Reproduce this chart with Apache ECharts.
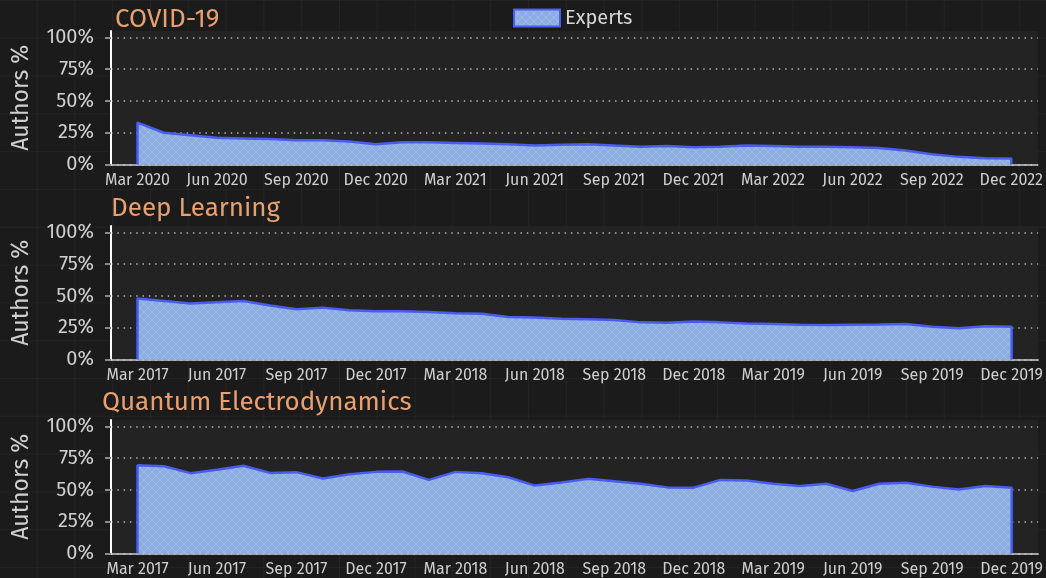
<!DOCTYPE html>
<html>
<head>
<meta charset="utf-8">
<script src="https://cdn.jsdelivr.net/npm/echarts@6/dist/echarts.min.js"></script>
<style>
html,body{margin:0;padding:0;width:1046px;height:578px;overflow:hidden;}
body{
  background-color:#1b1b1b;
  background-image:
    linear-gradient(to right, rgba(255,255,255,0.035) 1px, transparent 1px),
    linear-gradient(to bottom, rgba(255,255,255,0.035) 1px, transparent 1px);
  background-size:37.8px 37.8px;
  background-position:36.6px 0px;
}
#c{width:1046px;height:578px;}
</style>
</head>
<body>
<div id="c"></div>
<script>
// ---------- data ----------
const titles = ['COVID-19', 'Deep Learning', 'Quantum Electrodynamics'];
const seriesName = 'Experts';
// month index 0 = first labelled month (Mar), one value per month
const covidLabels = ['Mar 2020','Jun 2020','Sep 2020','Dec 2020','Mar 2021','Jun 2021','Sep 2021','Dec 2021','Mar 2022','Jun 2022','Sep 2022','Dec 2022'];
const dlLabels = ['Mar 2017','Jun 2017','Sep 2017','Dec 2017','Mar 2018','Jun 2018','Sep 2018','Dec 2018','Mar 2019','Jun 2019','Sep 2019','Dec 2019'];
const qedLabels = ['Mar 2017','Jun 2017','Sep 2017','Dec 2017','Mar 2018','Jun 2018','Sep 2018','Dec 2018','Mar 2019','Jun 2019','Sep 2019','Dec 2019'];
const covidValues = [33,25,23,21,20.5,20,19,19,18,16,17.5,17.5,17,16.5,16,15,15.5,16,15,14,14.5,13.5,14,15,14.5,14,14,13.5,13,11,8,6,5,4.8];
const dlValues = [48,46,44,45,46,42.4,39.5,40.8,38.7,38,38,37.4,36.3,36,33.4,33,32,31.6,31,29.2,28.9,29.8,29.2,28.4,27.9,27.4,27.1,27.4,27.6,28,25.8,24.6,26.2,25.8];
const qedValues = [69.4,68.6,63.2,65.8,69,63.4,64,59,62.4,64.2,64.5,57.9,64.2,63.2,60,53.4,55.8,58.7,56.8,54.9,52,51.8,57.9,57.4,54.9,53.1,54.9,49.2,54.9,55.7,52.6,50.3,53.1,51.8];
const yTicks = [0,25,50,75,100];

// ---------- styling ----------
const FONT = '"Fira Sans","Open Sans","Noto Sans",sans-serif';
const lineColor = '#4a5cf0';
function makePattern(){
  const c = document.createElement('canvas');
  c.width = 8; c.height = 8;
  const g = c.getContext('2d');
  g.fillStyle = '#8cade0';
  g.fillRect(0,0,8,8);
  g.strokeStyle = 'rgba(170,198,240,0.6)';
  g.lineWidth = 1;
  g.beginPath();
  g.moveTo(0,0); g.lineTo(8,8);
  g.moveTo(8,0); g.lineTo(0,8);
  g.stroke();
  return c;
}
const pattern = {image: makePattern(), repeat: 'repeat'};

const gridTops = [31, 226, 420];
const gridH = 133.5;
const titleTops = [2, 191, 385];
const titleLefts = [110, 106, 97];
const labelSets = [covidLabels, dlLabels, qedLabels];
const valueSets = [covidValues, dlValues, qedValues];

const grids = [], xAxes = [], yAxes = [], series = [], titleArr = [];
for (let i = 0; i < 3; i++) {
  grids.push({left: 111, right: 7, top: gridTops[i], height: gridH, show: true,
    backgroundColor: '#232323', borderWidth: 0, containLabel: false});
  const labels = labelSets[i];
  const tickVals = labels.map((_, k) => k * 3);
  xAxes.push({type: 'value', gridIndex: i, min: -1, max: 34,
    axisLine: {show: true, onZero: false, lineStyle: {color: '#d0d0d0', width: 1.5}},
    axisTick: {show: false},
    splitLine: {show: false},
    axisLabel: {customValues: tickVals, color: '#cfcfcf', fontFamily: FONT, fontSize: 16, margin: 8,
      formatter: v => labels[Math.round(v / 3)] || ''}
  });
  yAxes.push({type: 'value', gridIndex: i, min: 0, max: 105,
    name: 'Authors %', nameLocation: 'middle', nameGap: 78, nameRotate: 90,
    nameTextStyle: {color: '#cfcfcf', fontFamily: FONT, fontSize: 23},
    axisLine: {show: true, onZero: false, lineStyle: {color: '#ffffff', width: 2}},
    axisTick: {show: true, customValues: yTicks, length: 6, lineStyle: {color: '#8a8a8a', width: 2}},
    splitLine: {show: true, lineStyle: {color: 'rgba(215,215,215,0.8)', width: 1.5, type: [1.5, 4.8]}},
    axisLabel: {customValues: yTicks, color: '#cfcfcf', fontFamily: FONT, fontSize: 20, margin: 17,
      formatter: v => v + '%'}
  });
  const vals = valueSets[i];
  const pts = [[0, 0]].concat(vals.map((v, k) => [k, v])).concat([[vals.length - 1, 0]]);
  series.push({name: seriesName, type: 'line', xAxisIndex: i, yAxisIndex: i,
    data: pts, showSymbol: false, symbol: 'none', animation: false, z: 1,
    lineStyle: {color: lineColor, width: 2.5},
    itemStyle: {color: lineColor},
    areaStyle: {color: pattern, opacity: 1, origin: 'start'}
  });
  titleArr.push({text: titles[i], left: titleLefts[i], top: titleTops[i],
    textStyle: {color: '#e9a070', fontFamily: FONT, fontSize: 26, fontWeight: 'normal'}});
}

const chart = echarts.init(document.getElementById('c'), null, {renderer: 'canvas'});
chart.setOption({
  backgroundColor: 'transparent',
  animation: false,
  title: titleArr,
  legend: {data: [seriesName], top: 3, left: 508, icon: 'rect', itemWidth: 46, itemHeight: 17,
    itemStyle: {color: pattern, borderColor: lineColor, borderWidth: 2},
    textStyle: {color: '#d8d8d8', fontFamily: FONT, fontSize: 20}},
  grid: grids, xAxis: xAxes, yAxis: yAxes, series: series
});
</script>
</body>
</html>
